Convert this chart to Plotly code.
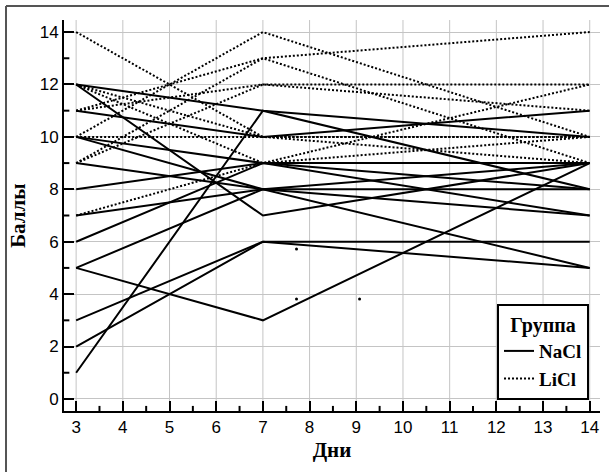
import plotly.graph_objects as go

# ---- data ----
days = [3, 7, 14]

# NaCl group: score at day 3, day 7, day 14 for each animal
nacl_scores = [
    [12, 11, 10],
    [12, 7, 9],
    [11, 10, 11],
    [10, 9, 9],
    [10, 8, 8],
    [9, 8, 7],
    [8, 9, 8],
    [7, 8, 9],
    [6, 9, 7],
    [5, 8, 5],
    [5, 3, 9],
    [3, 6, 6],
    [2, 6, 5],
    [1, 11, 8],
]

# LiCl group
licl_scores = [
    [14, 10, 10],
    [10, 14, 10],
    [11, 13, 14],
    [9, 13, 9],
    [11, 12, 12],
    [12, 9, 12],
    [12, 10, 9],
    [10, 10, 10],
    [9, 12, 11],
    [7, 9, 10],
]

# small stray specks visible in the picture
speck_x = [7.72, 7.72, 9.07]
speck_y = [5.72, 3.81, 3.81]

x_ticks = list(range(3, 15))
y_ticks = list(range(0, 15, 2))

group_names = ["NaCl", "LiCl"]
legend_title = "Группа"
x_title = "Дни"
y_title = "Баллы"

# ---- figure ----
serif = "Liberation Serif, Times New Roman, serif"
sans = "Liberation Sans, Arial, sans-serif"
grid_color = "#c4c4c4"

fig = go.Figure()

for i, row in enumerate(nacl_scores):
    fig.add_trace(go.Scatter(
        x=days, y=row, mode="lines",
        line=dict(color="black", width=2, dash="solid"),
        name=group_names[0], legendgroup="nacl", showlegend=(i == 0),
        hoverinfo="skip",
    ))

for i, row in enumerate(licl_scores):
    fig.add_trace(go.Scatter(
        x=days, y=row, mode="lines",
        line=dict(color="black", width=2, dash="2px,2px"),
        name=group_names[1], legendgroup="licl", showlegend=(i == 0),
        hoverinfo="skip",
    ))

fig.add_trace(go.Scatter(
    x=speck_x, y=speck_y, mode="markers",
    marker=dict(color="black", size=3),
    showlegend=False, hoverinfo="skip",
))

axis_common = dict(
    showline=True, linecolor="black", linewidth=2,
    ticks="inside", ticklen=10, tickwidth=2, tickcolor="black",
    zeroline=False, mirror=False, automargin=False,
    tickfont=dict(family=sans, size=17, color="black"),
)

fig.update_xaxes(
    range=[2.74, 14.22], tickvals=x_ticks, showgrid=False,
    title=dict(text=x_title, font=dict(family=serif, size=21, color="black", weight="bold"),
               standoff=6),
    **axis_common,
)
fig.update_yaxes(
    range=[-0.46, 14.46], tickvals=y_ticks,
    showgrid=True, gridcolor=grid_color, gridwidth=1,
    title=dict(text=y_title, font=dict(family=serif, size=21, color="black", weight="bold"),
               standoff=8),
    **axis_common,
)

# vertical grid lines at the x tick positions
shapes = [
    dict(type="line", xref="x", yref="paper", x0=t, x1=t, y0=0, y1=1,
         layer="below", line=dict(color=grid_color, width=1))
    for t in x_ticks
]
# short minor ticks half-way between x ticks
shapes += [
    dict(type="line", xref="x", yref="paper", x0=t + 0.5, x1=t + 0.5, y0=0, y1=0.013,
         line=dict(color="black", width=2))
    for t in x_ticks[:-1]
]
# short minor ticks half-way between y ticks
shapes += [
    dict(type="line", xref="paper", yref="y", x0=0, x1=0.01, y0=t + 1, y1=t + 1,
         line=dict(color="black", width=2))
    for t in y_ticks[:-1]
]
# outer frame (left and top edges of the scanned figure)
shapes += [
    dict(type="line", xref="paper", yref="paper", x0=-0.1082, x1=1.02, y0=1.0358, y1=1.0358,
         line=dict(color="#555555", width=2)),
    dict(type="line", xref="paper", yref="paper", x0=-0.1082, x1=-0.1082, y0=-0.16, y1=1.0358,
         line=dict(color="#555555", width=2)),
]

fig.update_layout(
    width=609, height=472, autosize=False,
    margin=dict(l=64, r=9, t=20, b=61, autoexpand=False),
    paper_bgcolor="white", plot_bgcolor="white",
    legend=dict(
        x=0.9795, y=0.028, xanchor="right", yanchor="bottom",
        bgcolor="white", bordercolor="black", borderwidth=2,
        font=dict(family=serif, size=19, color="black", weight="bold"),
        title=dict(text=legend_title, side="top center",
                   font=dict(family=serif, size=20, color="black", weight="bold")),
        itemwidth=30, tracegroupgap=0,
    ),
    shapes=shapes,
)

fig.write_html(
    "out.html",
    config={"displayModeBar": False},
    post_script=(
        "document.body.style.margin='0';"
        "document.body.style.overflow='hidden';"
        "document.documentElement.style.overflow='hidden';"
    ),
)
